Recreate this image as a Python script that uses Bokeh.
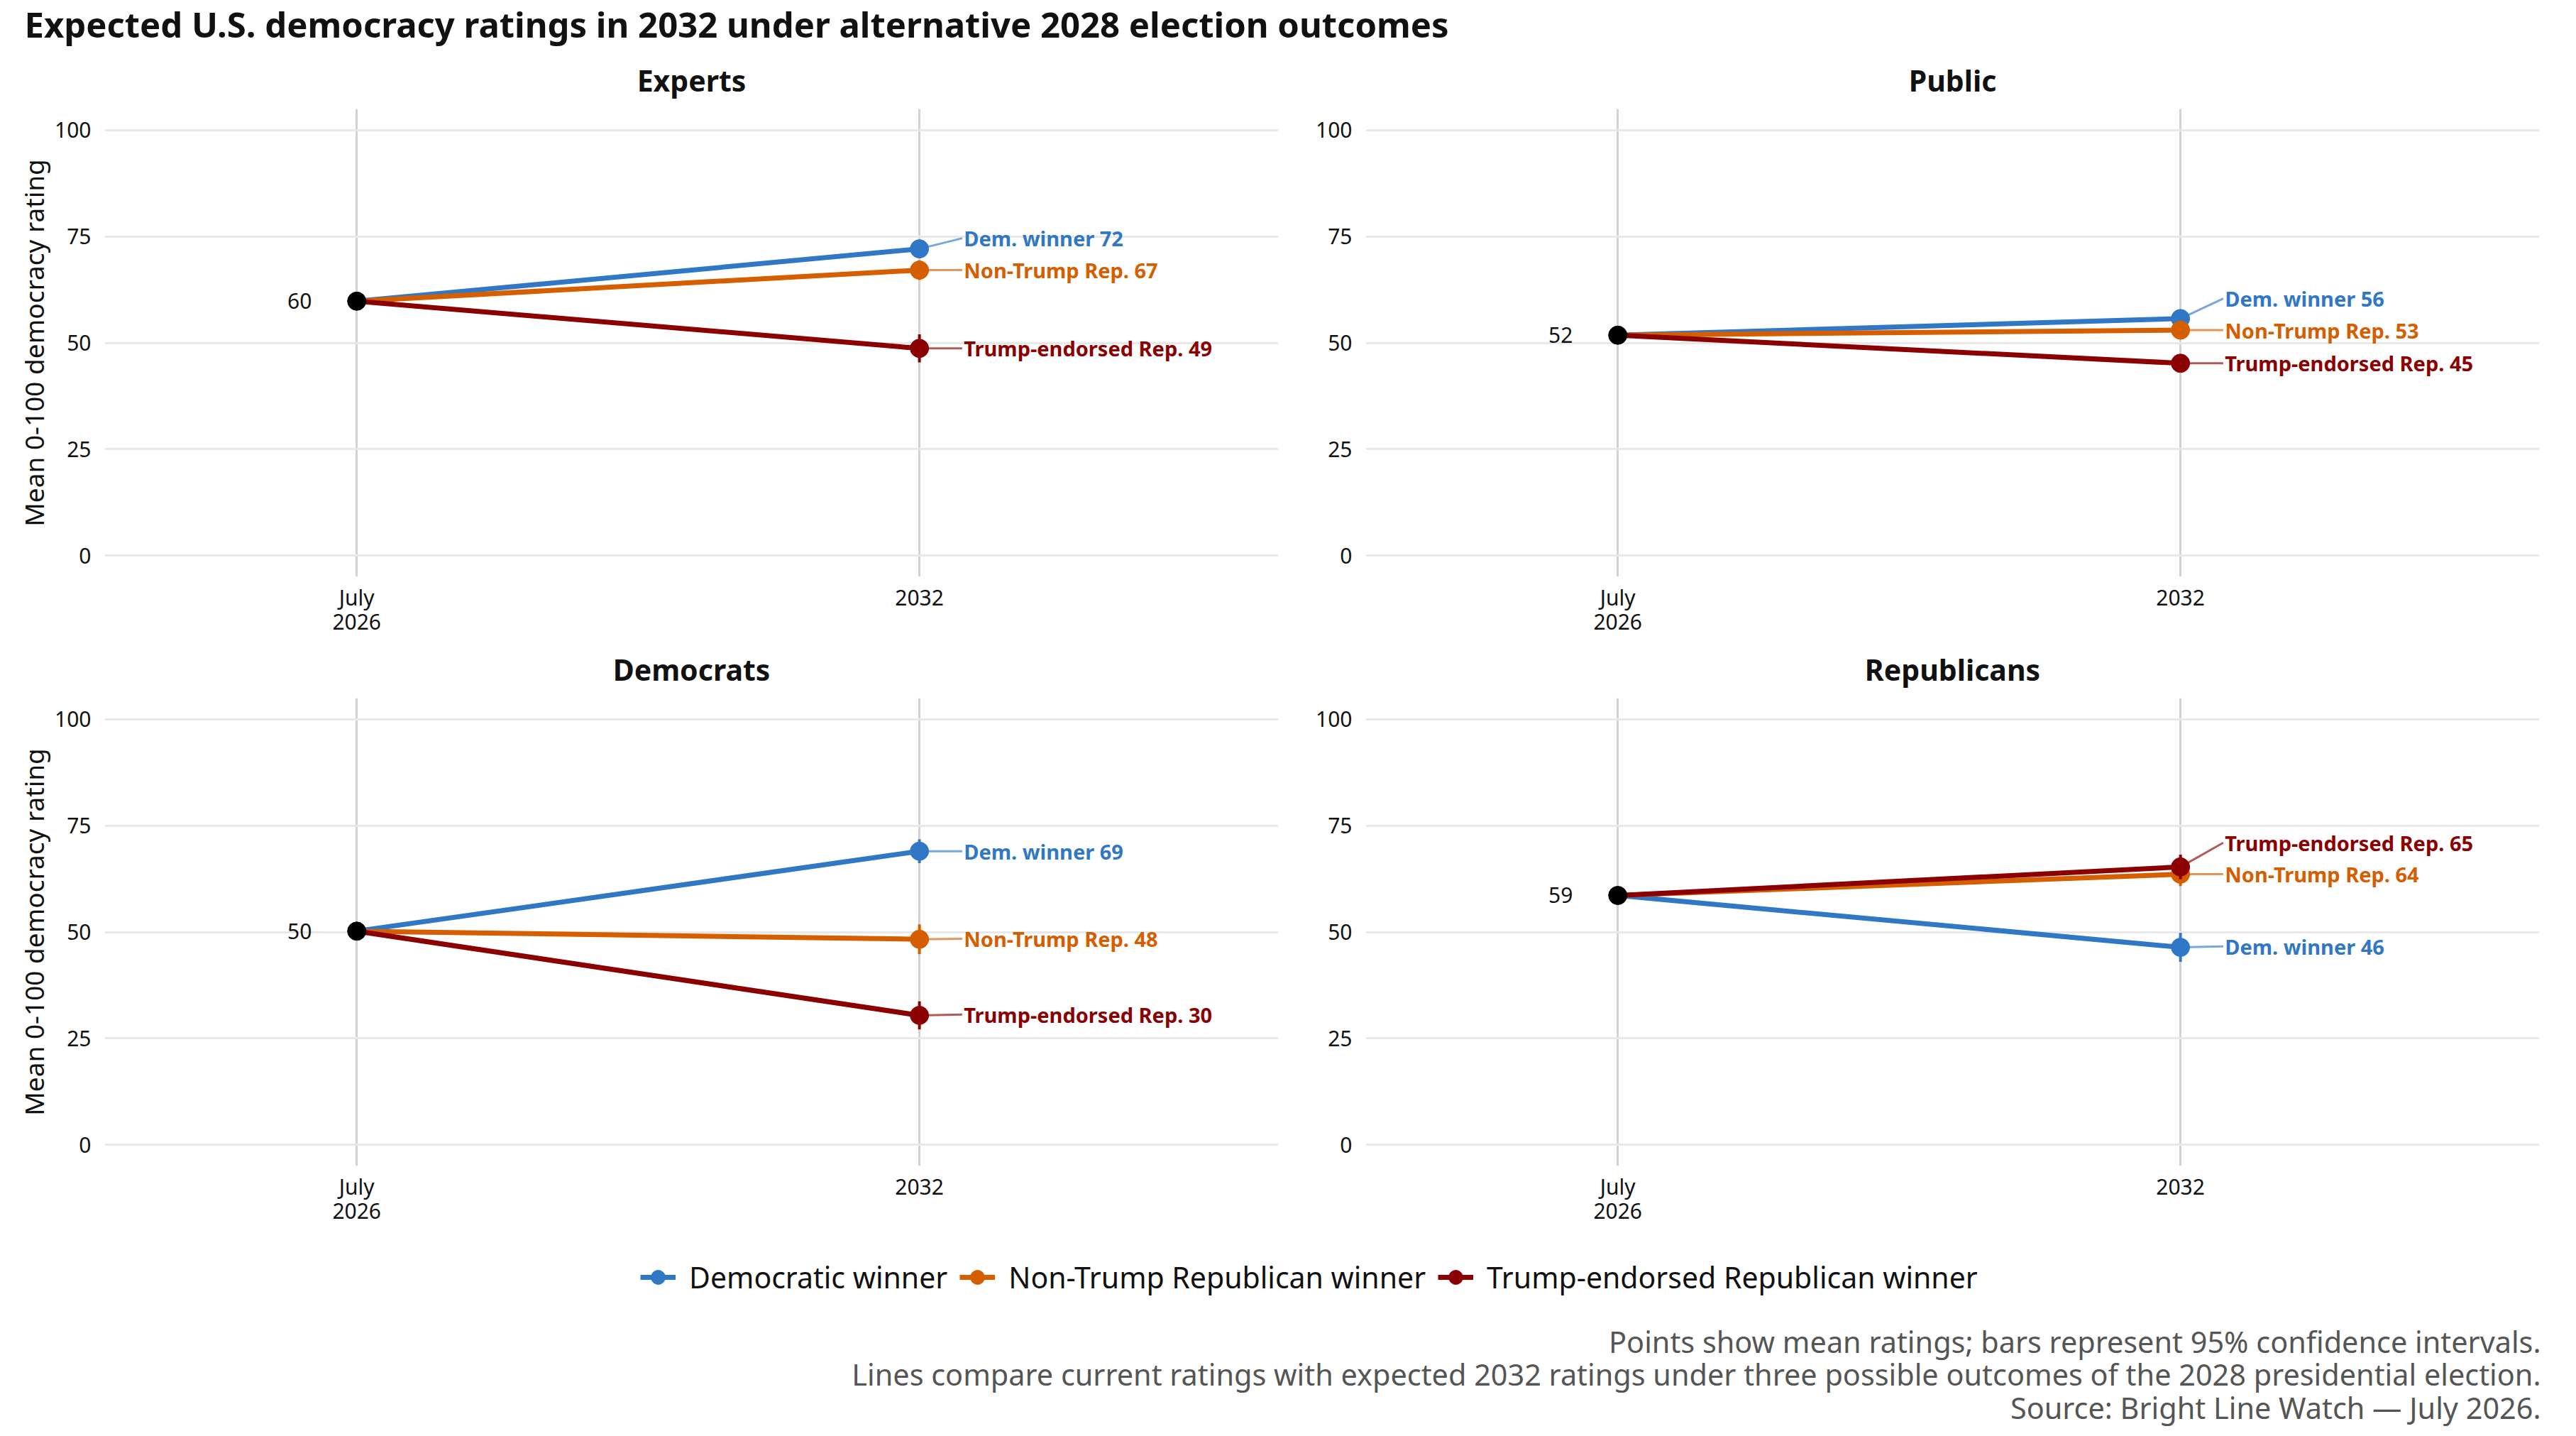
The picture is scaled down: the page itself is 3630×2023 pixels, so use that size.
from bokeh.plotting import figure
from bokeh.layouts import column, row
from bokeh.models import Range1d, FixedTicker, Legend, LegendItem
from bokeh.embed import file_html
from bokeh.resources import INLINE
from bokeh.core.properties import value

FONT = "Noto Sans"

# ---------------- data ----------------
title_text = "Expected U.S. democracy ratings in 2032 under alternative 2028 election outcomes"
panels = ["Experts", "Public", "Democrats", "Republicans"]
period_labels = ["July\n2026", "2032"]
period_pos = [1, 2]

scenarios = ["Democratic winner", "Non-Trump Republican winner", "Trump-endorsed Republican winner"]
short_labels = ["Dem. winner", "Non-Trump Rep.", "Trump-endorsed Rep."]

start_vals = [59.8, 51.8, 50.2, 58.6]
dem_vals = [72.1, 55.7, 69.0, 46.4]
nontrump_vals = [67.1, 53.0, 48.3, 63.6]
trump_vals = [48.7, 45.2, 30.4, 65.3]

dem_ci = [2.0, 1.2, 2.8, 3.4]
nontrump_ci = [2.3, 1.0, 3.5, 2.8]
trump_ci = [3.3, 1.3, 3.3, 2.9]

# label y positions (after repel)
dem_label_y = [74.6, 60.4, 69.0, 46.6]
nontrump_label_y = [67.1, 53.0, 48.4, 63.6]
trump_label_y = [48.7, 45.2, 30.6, 71.0]

caption_lines = [
    "Points show mean ratings; bars represent 95% confidence intervals.",
    "Lines compare current ratings with expected 2032 ratings under three possible outcomes of the 2028 presidential election.",
    "Source: Bright Line Watch \u2014 July 2026.",
]

colors = ["#3078C6", "#D55E00", "#8B0000"]
series_vals = [dem_vals, nontrump_vals, trump_vals]
series_ci = [dem_ci, nontrump_ci, trump_ci]
series_lab_y = [dem_label_y, nontrump_label_y, trump_label_y]

TXT = "#111111"
LINE_W = 7
PT_SIZE = 26


def make_panel(i, left, top):
    p = figure(frame_width=1654, frame_height=659,
               x_range=Range1d(0.552, 2.638), y_range=Range1d(-5, 105),
               output_backend="svg", toolbar_location=None,
               min_border_left=147 if left else 93,
               min_border_right=30 if left else 36,
               min_border_top=84, min_border_bottom=74 if top else 103)
    p.outline_line_color = None
    p.background_fill_color = "white"
    p.border_fill_color = "white"

    p.title.text = panels[i]
    p.title.align = "center"
    p.title.text_font = FONT
    p.title.text_font_size = "41px"
    p.title.text_font_style = "bold"
    p.title.text_color = TXT
    p.title.standoff = 26

    p.xaxis.ticker = FixedTicker(ticks=period_pos)
    p.xaxis.major_label_overrides = {pos: lab for pos, lab in zip(period_pos, period_labels)}
    p.yaxis.ticker = FixedTicker(ticks=[0, 25, 50, 75, 100])
    for ax in (p.xaxis, p.yaxis):
        ax.axis_line_color = None
        ax.major_tick_line_color = None
        ax.minor_tick_line_color = None
        ax.major_label_text_font = FONT
        ax.major_label_text_font_size = "30px"
        ax.major_label_text_color = TXT
    p.yaxis.major_label_standoff = 13
    p.xaxis.major_label_standoff = 2
    p.xaxis.major_label_text_line_height = 0.85
    if left:
        p.yaxis.axis_label = "Mean 0-100 democracy rating"
        p.yaxis.axis_label_text_font = FONT
        p.yaxis.axis_label_text_font_size = "37px"
        p.yaxis.axis_label_text_font_style = "normal"
        p.yaxis.axis_label_text_color = TXT
        p.yaxis.axis_label_standoff = 1

    p.xgrid.grid_line_color = "#d2d2d2"
    p.xgrid.grid_line_width = 3
    p.ygrid.grid_line_color = "#e8e8e8"
    p.ygrid.grid_line_width = 3

    x0, x1 = period_pos
    s = start_vals[i]
    lab_dx = 0.076

    # leader lines
    for k in range(3):
        v = series_vals[k][i]
        p.segment(x0=[x1], y0=[v], x1=[x1 + lab_dx], y1=[series_lab_y[k][i]],
                  line_color=colors[k], line_alpha=0.65, line_width=3)
    # lines
    for k in range(3):
        v = series_vals[k][i]
        p.line(x=[x0, x1], y=[s, v], line_color=colors[k], line_width=LINE_W)
    # error bars + points
    for k in range(3):
        v = series_vals[k][i]
        c = series_ci[k][i]
        p.segment(x0=[x1], y0=[v - c], x1=[x1], y1=[v + c],
                  line_color=colors[k], line_width=4)
        p.scatter(x=[x1], y=[v], size=PT_SIZE, fill_color=colors[k], line_color=colors[k])
    p.scatter(x=[x0], y=[s], size=PT_SIZE, fill_color="black", line_color="black")

    # start label
    p.text(x=[x0 - 0.08], y=[s], text=[f"{round(s)}"], text_align="right",
           text_baseline="middle", text_font=value(FONT), text_font_size="30px",
           text_color=TXT)
    # end labels
    for k in range(3):
        v = series_vals[k][i]
        p.text(x=[x1 + lab_dx + 0.003], y=[series_lab_y[k][i]],
               text=[f"{short_labels[k]} {round(v)}"], text_align="left",
               text_baseline="middle", text_font=value(FONT), text_font_size="29px",
               text_font_style="bold", text_color=colors[k])
    return p


W = 3614
head_h = 69
head = figure(width=W, height=head_h, x_range=Range1d(0, W), y_range=Range1d(head_h, 0),
              x_axis_type=None, y_axis_type=None, min_border=0,
              output_backend="svg", toolbar_location=None)
head.outline_line_color = None
head.grid.visible = False
head.text(x=[34], y=[33], text=[title_text], text_font=value(FONT), text_font_size="49px",
          text_font_style="bold", text_baseline="middle", text_align="left", text_color=TXT)

p1 = make_panel(0, True, True)
p2 = make_panel(1, False, True)
p3 = make_panel(2, True, False)
p4 = make_panel(3, False, False)

foot_h = 275
foot = figure(width=W, height=foot_h, x_range=Range1d(0, W), y_range=Range1d(foot_h, 0),
              x_axis_type=None, y_axis_type=None, min_border=0,
              output_backend="svg", toolbar_location=None)
foot.outline_line_color = None
foot.grid.visible = False

items = []
for k in range(3):
    rl = foot.line(x=[-1000, -999], y=[-1000, -1000], line_color=colors[k], line_width=LINE_W)
    rs = foot.scatter(x=[-1000], y=[-1000], size=PT_SIZE, fill_color=colors[k], line_color=colors[k])
    items.append(LegendItem(label=scenarios[k], renderers=[rl, rs]))
legend = Legend(items=items, orientation="horizontal", location=(902, 193),
                glyph_width=50, glyph_height=56, label_standoff=19, spacing=17,
                padding=0, margin=0, border_line_color=None, background_fill_alpha=0,
                label_text_font=FONT, label_text_font_size="41px", label_text_color=TXT)
foot.add_layout(legend)

for j, line in enumerate(caption_lines):
    foot.text(x=[3580], y=[144 + 46.5 * j], text=[line], text_align="right",
              text_baseline="middle", text_font=value(FONT), text_font_size="41.4px",
              text_color="#555555")

layout = column(head, row(p1, p2), row(p3, p4), foot)

open("out.html", "w").write(file_html(layout, INLINE))
